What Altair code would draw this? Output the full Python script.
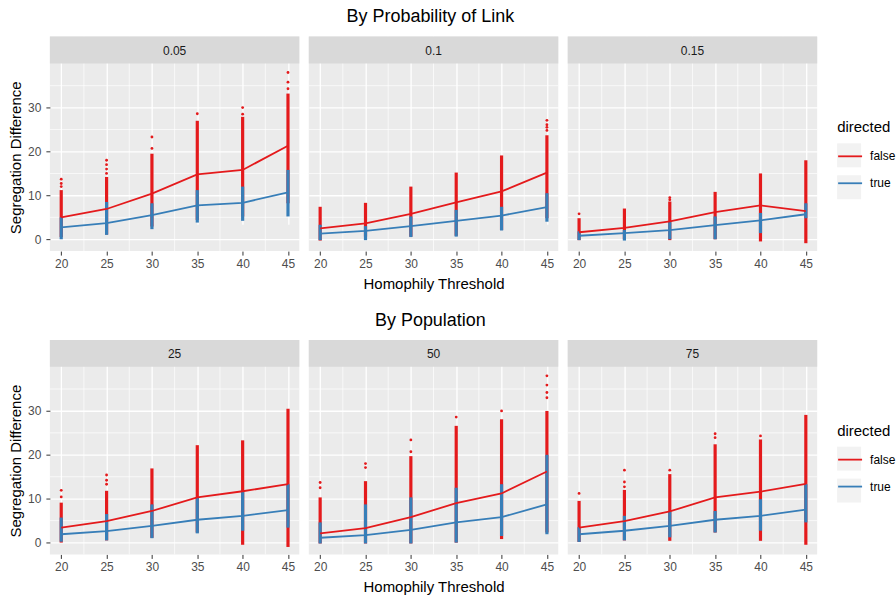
import altair as alt
import pandas as pd

FONT = "Liberation Sans"

thresholds = [20, 25, 30, 35, 40, 45]
series = ["false", "true"]
series_colors = ["#E41A1C", "#377EB8"]

minor_x = [22.5, 27.5, 32.5, 37.5, 42.5]
minor_y = [5, 15, 25, 35]
major_y = [0, 10, 20, 30]

# ---- By Probability of Link ----
link_labels = ["0.05", "0.1", "0.15"]

link_005 = dict(
    mean_false=[5.0, 6.9, 10.4, 14.8, 15.8, 21.3],
    mean_true=[2.7, 3.7, 5.5, 7.7, 8.3, 10.7],
    false_lo=[0.5, 1.1, 2.9, 4.4, 5.2, 8.2],
    false_hi=[11.2, 14.2, 19.5, 27.0, 27.9, 33.2],
    true_lo=[0.0, 1.0, 2.3, 3.8, 4.2, 5.2],
    true_hi=[5.0, 8.5, 8.2, 11.2, 12.0, 15.8],
    false_sparse=[[12.0, 12.7, 13.7], [15.0, 16.0, 17.0, 18.0], [20.7, 23.3],
                  [28.6], [28.5, 30.0], [34.3, 35.8, 38.0]],
)
link_010 = dict(
    mean_false=[2.5, 3.6, 5.8, 8.4, 10.9, 15.2],
    mean_true=[1.3, 1.9, 3.0, 4.2, 5.4, 7.3],
    false_lo=[-0.3, 0.6, 0.6, 0.8, 2.1, 4.8],
    false_hi=[7.4, 8.3, 12.0, 15.2, 19.1, 23.7],
    true_lo=[-0.2, -0.2, 0.5, 0.6, 2.0, 4.0],
    true_hi=[3.3, 3.0, 5.2, 6.7, 7.4, 10.5],
    false_sparse=[[], [], [], [], [], [24.8, 25.5, 26.1, 27.1]],
)
link_015 = dict(
    mean_false=[1.6, 2.6, 4.1, 6.2, 7.7, 6.4],
    mean_true=[0.8, 1.4, 2.1, 3.2, 4.3, 5.7],
    false_lo=[-0.2, 0.0, -0.2, 0.0, -0.5, -0.9],
    false_hi=[4.8, 7.0, 8.6, 10.8, 15.0, 18.0],
    true_lo=[-0.2, -0.3, 0.0, 0.0, 1.4, 4.8],
    true_hi=[1.8, 2.1, 3.9, 5.2, 6.0, 8.2],
    false_sparse=[[5.8], [], [9.0, 9.5], [], [], []],
)

# ---- By Population ----
pop_labels = ["25", "50", "75"]

pop_25 = dict(
    mean_false=[3.4, 4.9, 7.2, 10.3, 11.7, 13.3],
    mean_true=[1.9, 2.6, 3.8, 5.2, 6.1, 7.4],
    false_lo=[0.0, 0.5, 1.1, 2.3, -0.5, -1.0],
    false_hi=[9.1, 11.8, 16.9, 22.2, 23.3, 30.5],
    true_lo=[0.2, 0.5, 1.0, 2.1, 2.7, 3.4],
    true_hi=[5.7, 6.5, 8.7, 10.3, 11.8, 13.3],
    false_sparse=[[10.4, 11.9], [13.3, 14.2, 15.4], [], [], [], []],
)
pop_50 = dict(
    mean_false=[2.1, 3.3, 5.8, 9.0, 11.2, 16.2],
    mean_true=[1.1, 1.7, 2.9, 4.6, 5.8, 8.7],
    false_lo=[-0.2, -0.2, -0.2, 0.0, 0.8, 2.3],
    false_hi=[10.3, 14.0, 19.7, 26.6, 28.1, 30.0],
    true_lo=[-0.2, -0.2, -0.2, 0.0, 1.5, 1.9],
    true_hi=[4.6, 8.7, 10.3, 12.5, 13.3, 20.0],
    false_sparse=[[12.5, 13.7], [17.1, 18.0], [20.7, 23.4], [28.6], [30.0],
                  [33.0, 34.2, 35.9, 38.0]],
)
pop_75 = dict(
    mean_false=[3.4, 4.9, 7.1, 10.3, 11.6, 13.4],
    mean_true=[1.9, 2.7, 3.8, 5.2, 6.1, 7.5],
    false_lo=[0.15, 0.5, 0.4, 2.3, 0.4, -0.5],
    false_hi=[9.5, 12.0, 15.6, 22.4, 23.5, 29.1],
    true_lo=[0.15, 0.5, 1.2, 2.3, 2.7, 4.6],
    true_hi=[3.5, 6.1, 7.0, 7.2, 9.9, 13.3],
    false_sparse=[[11.2], [12.7, 13.8, 16.5], [16.5], [23.9, 24.8], [24.3], []],
)

# ---- layout constants ----
PANEL_W = 250
STRIP_H = 27
PANEL_H = STRIP_H + 188
X_DOMAIN = [18.75, 46.25]
Y_DOMAIN = [-2.7, 40.05]
LEGEND_X = 789
LEGEND_Y = 84
KEY_ROW_PAD = 8


def frames(p):
    ranges, means, sparse = [], [], []
    for i, t in enumerate(thresholds):
        ranges.append({"x": t, "directed": "false", "lo": p["false_lo"][i], "hi": p["false_hi"][i]})
        ranges.append({"x": t, "directed": "true", "lo": p["true_lo"][i], "hi": p["true_hi"][i]})
        means.append({"x": t, "directed": "false", "v": p["mean_false"][i]})
        means.append({"x": t, "directed": "true", "v": p["mean_true"][i]})
        for v in p["false_sparse"][i]:
            sparse.append({"x": t, "directed": "false", "v": v})
    return pd.DataFrame(ranges), pd.DataFrame(means), pd.DataFrame(sparse)


def make_panel(label, p, first, middle, last):
    ranges, means, sparse = frames(p)

    xscale = alt.Scale(domain=X_DOMAIN, nice=False, zero=False)
    yscale = alt.Scale(domain=Y_DOMAIN, nice=False, zero=False, range=[PANEL_H, STRIP_H])

    xaxis = alt.Axis(values=thresholds, title="Homophily Threshold" if middle else None,
                     grid=True, domain=False)
    yaxis = alt.Axis(values=major_y, title="Segregation Difference" if first else None,
                     labels=first, ticks=first, grid=True, domain=False)

    def X(field):
        return alt.X(field, type="quantitative", scale=xscale, axis=xaxis)

    def Y(field):
        return alt.Y(field, type="quantitative", scale=yscale, axis=yaxis)

    legend = alt.Legend(
        orient="none", legendX=LEGEND_X, legendY=LEGEND_Y, title="directed",
        symbolType="stroke", symbolSize=576, symbolStrokeWidth=1.8,
        titleFontSize=15, titleFontWeight="normal", titleColor="#000000",
        titlePadding=8, labelFontSize=12, labelColor="#000000",
        labelOffset=7, rowPadding=KEY_ROW_PAD, padding=0, zindex=2,
    )
    color = alt.Color("directed:N", scale=alt.Scale(domain=series, range=series_colors),
                      legend=legend)

    grid_x = alt.Chart(pd.DataFrame({"g": minor_x})).mark_rule(
        color="white", strokeWidth=0.7).encode(x=X("g"))
    grid_y = alt.Chart(pd.DataFrame({"g": minor_y})).mark_rule(
        color="white", strokeWidth=0.7).encode(y=Y("g"))

    cols_false = alt.Chart(ranges).transform_filter("datum.directed == 'false'").mark_rule(
        strokeWidth=3.2).encode(x=X("x"), y=Y("lo"), y2="hi", color=color)
    cols_true = alt.Chart(ranges).transform_filter("datum.directed == 'true'").mark_rule(
        strokeWidth=3.2).encode(x=X("x"), y=Y("lo"), y2="hi", color=color)
    dots = alt.Chart(sparse).mark_circle(size=8, opacity=1).encode(
        x=X("x"), y=Y("v"), color=color)
    lines = alt.Chart(means).mark_line(strokeWidth=1.8).encode(
        x=X("x"), y=Y("v"), color=color, detail="directed:N")

    strip_df = pd.DataFrame({"label": [label]})
    strip = alt.Chart(strip_df).mark_rect(fill="#D9D9D9").encode(
        x=alt.value(0), x2=alt.value(PANEL_W), y=alt.value(0), y2=alt.value(STRIP_H))
    strip_text = alt.Chart(strip_df).mark_text(
        fontSize=12, color="#1A1A1A", font=FONT, baseline="middle").encode(
        x=alt.value(PANEL_W / 2), y=alt.value(STRIP_H / 2 + 1), text="label:N")

    layers = [grid_x, grid_y, cols_false, cols_true, dots, lines, strip, strip_text]

    if last:
        # grey key boxes drawn underneath the legend symbols
        key_df = pd.DataFrame({"key": ["f", "t"], "x": [30, 30], "v": [0, 0]})
        keys = alt.Chart(key_df).transform_filter("false").mark_point(
            filled=True, color="#F2F2F2", opacity=1).encode(
            x=X("x"), y=Y("v"),
            shape=alt.Shape("key:N", scale=alt.Scale(domain=["f", "t"], range=["square", "square"]),
                            legend=alt.Legend(
                                orient="none", legendX=LEGEND_X, legendY=LEGEND_Y, title=" ",
                                titleFontSize=15, titlePadding=8,
                                labelFontSize=12, labelExpr="' '", labelOffset=7,
                                symbolSize=576, symbolStrokeWidth=0, symbolFillColor="#F2F2F2",
                                symbolOpacity=1, rowPadding=KEY_ROW_PAD, padding=0, zindex=1)))
        layers.append(keys)

    return alt.layer(*layers).properties(width=PANEL_W, height=PANEL_H)


def make_row(title, labels, panels):
    charts = [make_panel(l, p, i == 0, i == 1, i == 2) for i, (l, p) in enumerate(zip(labels, panels))]
    return alt.hconcat(*charts, spacing=7.5).properties(
        title=alt.TitleParams(title, fontSize=18, font=FONT, fontWeight="normal",
                              color="#000000", anchor="middle", offset=10, dx=-22)
    )


row1 = make_row("By Probability of Link", link_labels, [link_005, link_010, link_015])
row2 = make_row("By Population", pop_labels, [pop_25, pop_50, pop_75])

chart = alt.vconcat(row1, row2, spacing=20).resolve_scale(
    color="independent", shape="independent"
).properties(
    padding={"left": 8, "top": 7, "right": 0, "bottom": 0}
).configure_view(
    fill="#EBEBEB", stroke=None
).configure_axis(
    labelFont=FONT, titleFont=FONT, labelFontSize=12, labelColor="#4D4D4D",
    titleFontSize=15, titleFontWeight="normal", titleColor="#000000",
    gridColor="#FFFFFF", gridWidth=1.3, gridOpacity=1,
    tickColor="#333333", tickSize=4, tickWidth=1,
    labelPadding=2, titlePadding=4,
).configure_axisY(
    labelPadding=5
).configure_axisX(
    labelPadding=3, titlePadding=7
).configure_legend(
    labelFont=FONT, titleFont=FONT
).configure_text(font=FONT)

chart.save("out.html", embed_options={"renderer": "svg", "actions": False})
